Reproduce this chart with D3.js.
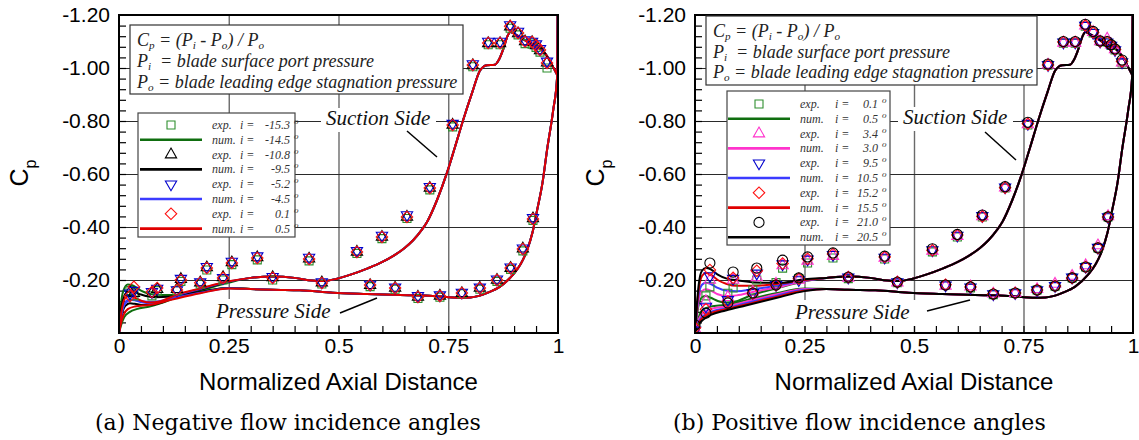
<!DOCTYPE html>
<html>
<head>
<meta charset="utf-8">
<script src="https://cdn.jsdelivr.net/npm/d3@7"></script>
<style>
  html, body { margin: 0; padding: 0; background: #fff; }
  svg { display: block; }
</style>
</head>
<body>
<div id="chart"></div>
<script>
// ---------- axis ticks ----------
const xTickValues = [0, 0.25, 0.5, 0.75, 1];
const xTickLabels = ["0", "0.25", "0.5", "0.75", "1"];
const yTickValues = [-1.2, -1.0, -0.8, -0.6, -0.4, -0.2];

// ---------- pressure port locations (normalized axial distance) ----------
const portUpper = [0.034, 0.087, 0.141, 0.2, 0.257, 0.315, 0.433, 0.542, 0.599, 0.656, 0.708, 0.76, 0.806, 0.841, 0.868, 0.891, 0.909, 0.925, 0.941, 0.95, 0.959, 0.975];
const portLower = [0, 0.025, 0.075, 0.132, 0.185, 0.237, 0.35, 0.462, 0.572, 0.629, 0.681, 0.731, 0.781, 0.822, 0.861, 0.892, 0.92, 0.943];

// ---------- (a) negative incidence: experiments ----------
const negExpLabels = ["-15.3", "-10.8", "-5.2", "0.1"];
const negExpUpper15 = [-0.14, -0.16, -0.195, -0.238, -0.258, -0.276, -0.272, -0.3, -0.356, -0.432, -0.54, -0.778, -1.005, -1.088, -1.088, -1.15, -1.125, -1.092, -1.09, -1.078, -1.06, -1.0];
const negExpUpper10 = [-0.15, -0.165, -0.203, -0.247, -0.266, -0.285, -0.28, -0.306, -0.362, -0.438, -0.547, -0.785, -1.01, -1.093, -1.093, -1.156, -1.13, -1.1, -1.097, -1.085, -1.066, -1.02];
const negExpUpper5 = [-0.16, -0.168, -0.205, -0.25, -0.27, -0.29, -0.285, -0.31, -0.368, -0.445, -0.552, -0.79, -1.015, -1.1, -1.1, -1.162, -1.138, -1.105, -1.1, -1.09, -1.072, -1.025];
const negExpUpper0 = [-0.174, -0.17, -0.2, -0.245, -0.264, -0.283, -0.279, -0.306, -0.362, -0.438, -0.547, -0.785, -1.011, -1.094, -1.094, -1.158, -1.132, -1.1, -1.098, -1.085, -1.068, -1.019];
const negExpLower15 = [null, -0.16, -0.14, -0.16, -0.185, -0.2, -0.2, -0.185, -0.175, -0.165, -0.13, -0.135, -0.148, -0.165, -0.195, -0.24, -0.31, -0.425];
const negExpLower10 = [null, -0.155, -0.15, -0.165, -0.19, -0.21, -0.21, -0.19, -0.18, -0.17, -0.136, -0.14, -0.15, -0.17, -0.2, -0.245, -0.318, -0.432];
const negExpLower5 = [null, -0.15, -0.155, -0.162, -0.192, -0.208, -0.212, -0.192, -0.183, -0.172, -0.14, -0.143, -0.153, -0.172, -0.203, -0.248, -0.32, -0.435];
const negExpLower0 = [null, -0.14, -0.155, -0.162, -0.19, -0.208, -0.208, -0.189, -0.181, -0.17, -0.136, -0.14, -0.151, -0.17, -0.2, -0.245, -0.317, -0.43];

// ---------- (a) negative incidence: simulations ----------
const negNumLabels = ["-14.5", "-9.5", "-4.5", "0.5"];
const negSucLE14 = [[0, 0], [0.005, -0.03], [0.012, -0.06], [0.025, -0.08], [0.04, -0.09], [0.07, -0.1], [0.1, -0.115], [0.14, -0.14], [0.185, -0.16], [0.25, -0.19]];
const negSucLE9 = [[0, 0], [0.004, -0.045], [0.009, -0.085], [0.016, -0.105], [0.025, -0.112], [0.036, -0.11], [0.052, -0.106], [0.071, -0.106], [0.095, -0.114], [0.132, -0.14], [0.185, -0.164], [0.25, -0.193]];
const negSucLE4 = [[0, 0], [0.004, -0.05], [0.009, -0.095], [0.016, -0.12], [0.025, -0.127], [0.036, -0.124], [0.052, -0.116], [0.071, -0.112], [0.095, -0.118], [0.132, -0.142], [0.185, -0.166], [0.25, -0.194]];
const negSucLE0 = [[0, 0], [0.004, -0.06], [0.009, -0.11], [0.016, -0.135], [0.025, -0.14], [0.036, -0.133], [0.052, -0.121], [0.071, -0.115], [0.095, -0.12], [0.132, -0.145], [0.185, -0.168], [0.25, -0.195]];
const negPreLE14 = [[0, 0], [0.004, -0.1], [0.01, -0.16], [0.02, -0.183], [0.03, -0.18], [0.05, -0.16], [0.08, -0.145], [0.12, -0.143], [0.185, -0.157], [0.25, -0.17]];
const negPreLE9 = [[0, 0], [0.004, -0.08], [0.01, -0.13], [0.02, -0.155], [0.03, -0.158], [0.05, -0.145], [0.08, -0.135], [0.12, -0.138], [0.185, -0.155], [0.25, -0.17]];
const negPreLE4 = [[0, 0], [0.004, -0.06], [0.01, -0.1], [0.02, -0.12], [0.03, -0.125], [0.05, -0.12], [0.08, -0.118], [0.12, -0.13], [0.185, -0.152], [0.25, -0.169]];
const negPreLE0 = [[0, 0], [0.005, -0.04], [0.011, -0.07], [0.02, -0.09], [0.036, -0.1], [0.07, -0.106], [0.116, -0.124], [0.185, -0.15], [0.25, -0.168]];

// ---------- (b) positive incidence: experiments ----------
const posExpLabels = ["0.1", "3.4", "9.5", "15.2", "21.0"];
const posExpUpper0 = [-0.174, -0.17, -0.2, -0.245, -0.264, -0.283, -0.279, -0.306, -0.362, -0.438, -0.547, -0.785, -1.011, -1.094, -1.094, -1.158, -1.132, -1.1, -1.098, -1.085, -1.068, -1.019];
const posExpUpper3 = [-0.2, -0.2, -0.21, -0.255, -0.272, -0.29, -0.283, -0.31, -0.365, -0.44, -0.548, -0.787, -1.012, -1.095, -1.095, -1.16, -1.135, -1.1, -1.11, -1.088, -1.07, -1.02];
const posExpUpper9 = [-0.215, -0.205, -0.225, -0.26, -0.278, -0.295, -0.285, -0.313, -0.368, -0.442, -0.55, -0.79, -1.012, -1.097, -1.097, -1.16, -1.133, -1.1, -1.097, -1.085, -1.068, -1.022];
const posExpUpper15 = [-0.238, -0.208, -0.235, -0.262, -0.28, -0.298, -0.287, -0.312, -0.37, -0.44, -0.548, -0.79, -1.011, -1.098, -1.098, -1.16, -1.134, -1.1, -1.098, -1.086, -1.07, -1.025];
const posExpUpper21 = [-0.264, -0.23, -0.245, -0.275, -0.287, -0.302, -0.29, -0.318, -0.372, -0.445, -0.552, -0.795, -1.015, -1.1, -1.1, -1.165, -1.138, -1.102, -1.1, -1.088, -1.072, -1.03];
const posExpLower0 = [-0.02, -0.14, -0.15, -0.162, -0.19, -0.205, -0.205, -0.19, -0.18, -0.17, -0.145, -0.15, -0.162, -0.177, -0.208, -0.249, -0.321, -0.438];
const posExpLower3 = [-0.015, -0.12, -0.135, -0.155, -0.185, -0.2, -0.208, -0.19, -0.178, -0.175, -0.148, -0.15, -0.165, -0.185, -0.215, -0.255, -0.33, -0.44];
const posExpLower9 = [-0.01, -0.1, -0.125, -0.152, -0.182, -0.2, -0.21, -0.192, -0.18, -0.172, -0.147, -0.151, -0.162, -0.178, -0.21, -0.25, -0.322, -0.438];
const posExpLower15 = [-0.02, -0.09, -0.118, -0.15, -0.18, -0.205, -0.21, -0.192, -0.182, -0.174, -0.147, -0.151, -0.162, -0.177, -0.208, -0.249, -0.321, -0.438];
const posExpLower21 = [-0.03, -0.075, -0.113, -0.151, -0.181, -0.208, -0.211, -0.192, -0.181, -0.174, -0.147, -0.151, -0.162, -0.177, -0.208, -0.249, -0.321, -0.438];

// ---------- (b) positive incidence: simulations ----------
const posNumLabels = ["0.5", "3.0", "10.5", "15.5", "20.5"];
const posSucLE0 = [[0, 0], [0.004, -0.06], [0.009, -0.11], [0.016, -0.135], [0.025, -0.14], [0.036, -0.133], [0.052, -0.121], [0.071, -0.115], [0.095, -0.12], [0.132, -0.145], [0.185, -0.168], [0.25, -0.195]];
const posSucLE3 = [[0, 0], [0.004, -0.07], [0.009, -0.13], [0.016, -0.158], [0.025, -0.165], [0.036, -0.16], [0.052, -0.146], [0.071, -0.14], [0.095, -0.142], [0.132, -0.155], [0.185, -0.172], [0.25, -0.196]];
const posSucLE10 = [[0, 0], [0.004, -0.08], [0.009, -0.15], [0.016, -0.182], [0.025, -0.19], [0.036, -0.185], [0.052, -0.17], [0.071, -0.16], [0.095, -0.158], [0.132, -0.165], [0.185, -0.178], [0.25, -0.198]];
const posSucLE15 = [[0, 0], [0.004, -0.09], [0.009, -0.17], [0.016, -0.215], [0.025, -0.226], [0.036, -0.22], [0.052, -0.2], [0.071, -0.186], [0.095, -0.178], [0.132, -0.178], [0.185, -0.185], [0.25, -0.2]];
const posSucLE20 = [[0, 0], [0.004, -0.1], [0.009, -0.19], [0.016, -0.235], [0.025, -0.245], [0.036, -0.24], [0.052, -0.22], [0.071, -0.206], [0.1, -0.198], [0.15, -0.19], [0.2, -0.19], [0.25, -0.203]];
const posPreLE0 = [[0, 0], [0.005, -0.04], [0.011, -0.07], [0.02, -0.09], [0.036, -0.1], [0.07, -0.106], [0.116, -0.124], [0.185, -0.15], [0.25, -0.168]];
const posPreLE3 = [[0, 0], [0.005, -0.035], [0.011, -0.06], [0.02, -0.078], [0.036, -0.09], [0.07, -0.1], [0.116, -0.118], [0.185, -0.145], [0.25, -0.166]];
const posPreLE10 = [[0, 0], [0.005, -0.03], [0.011, -0.05], [0.02, -0.066], [0.036, -0.08], [0.07, -0.093], [0.116, -0.112], [0.185, -0.14], [0.25, -0.163]];
const posPreLE15 = [[0, 0], [0.005, -0.025], [0.011, -0.045], [0.02, -0.06], [0.036, -0.075], [0.07, -0.09], [0.116, -0.108], [0.185, -0.136], [0.25, -0.16]];
const posPreLE20 = [[0, 0], [0.005, -0.02], [0.011, -0.038], [0.02, -0.052], [0.036, -0.068], [0.07, -0.085], [0.116, -0.104], [0.185, -0.132], [0.25, -0.158]];

// common aft part of the computed distributions (all cases collapse here)
const suctionTail = [[0.3, -0.208], [0.35, -0.213], [0.4, -0.208], [0.44, -0.198], [0.465, -0.196], [0.497, -0.205], [0.531, -0.222], [0.565, -0.243], [0.6, -0.268], [0.624, -0.29], [0.65, -0.32], [0.67, -0.35], [0.69, -0.39], [0.702, -0.42], [0.724, -0.5], [0.747, -0.604], [0.765, -0.7], [0.784, -0.804], [0.805, -0.91], [0.822, -0.99], [0.83, -1.005], [0.838, -1.01], [0.856, -1.012], [0.865, -1.03], [0.875, -1.07], [0.885, -1.12], [0.891, -1.136], [0.9, -1.13], [0.913, -1.117], [0.936, -1.094], [0.959, -1.075], [0.977, -1.04], [0.99, -1.0], [0.998, -0.974]];
const pressureTail = [[0.3, -0.166], [0.349, -0.163], [0.412, -0.161], [0.487, -0.152], [0.565, -0.147], [0.64, -0.143], [0.715, -0.14], [0.777, -0.133], [0.8, -0.134], [0.82, -0.14], [0.838, -0.151], [0.868, -0.175], [0.897, -0.219], [0.915, -0.26], [0.929, -0.31], [0.942, -0.38], [0.952, -0.46], [0.965, -0.57], [0.975, -0.69], [0.989, -0.84], [0.998, -0.966], [1.0, -1.4]];

// ---------- styles ----------
const GREEN = "#0f6e0f", GREEN_M = "#2f8f2f", BLACK = "#000", BLUE = "#3b3bff", BLUE_M = "#0000cc", RED = "#e00000", RED_M = "#ff1010", MAG = "#ff33cc";

const yScale = d3.scaleLinear().domain([0, -1.2]).range([333, 15]);
const svg = d3.select("#chart").append("svg").attr("width", 1139).attr("height", 440);
svg.append("rect").attr("width", 1139).attr("height", 440).attr("fill", "#fff");

const markerPath = {
  square: d3.symbol().type(d3.symbolSquare).size(64)(),
  tri: d3.symbol().type(d3.symbolTriangle).size(55)(),
  invtri: d3.symbol().type(d3.symbolTriangle).size(55)(),
  diamond: d3.symbol().type(d3.symbolSquare).size(66)(),
  circle: d3.symbol().type(d3.symbolCircle).size(80)()
};
const markerRot = { square: 0, tri: 0, invtri: 180, diamond: 45, circle: 0 };

function sub(parent, parts, size) {
  // parts: [text, "sub"|undefined]
  let shift = 0;
  parts.forEach(([t, kind]) => {
    const ts = parent.append("tspan").text(t);
    const target = kind === "sub" ? 3 : 0;
    if (target !== shift) { ts.attr("dy", target - shift); shift = target; }
    if (kind === "sub") ts.attr("font-size", size * 0.62);
  });
}

function drawPanel(p) {
  const x = d3.scaleLinear().domain([0, 1]).range([p.x0, p.x1]);
  const w = p.x1 - p.x0, h = 333 - 15;
  const g = svg.append("g");

  svg.append("clipPath").attr("id", "clip-" + p.id).append("rect")
    .attr("x", p.x0).attr("y", 15).attr("width", w).attr("height", h);

  // grid
  g.append("g").attr("transform", "translate(0,333)")
    .call(d3.axisBottom(x).tickValues([0.25, 0.5, 0.75]).tickSizeInner(-h).tickFormat(""))
    .call(s => s.select(".domain").remove())
    .selectAll("line").attr("stroke", "#6a6a6a").attr("stroke-width", 1.4);
  g.append("g").attr("transform", `translate(${p.x0},0)`)
    .call(d3.axisLeft(yScale).tickValues([-1.0, -0.8, -0.6, -0.4, -0.2]).tickSizeInner(-w).tickFormat(""))
    .call(s => s.select(".domain").remove())
    .selectAll("line").attr("stroke", "#2a2a2a").attr("stroke-width", 1.1);

  // minor ticks
  g.append("g").attr("transform", "translate(0,333)")
    .call(d3.axisBottom(x).tickValues(d3.range(0.05, 1, 0.05)).tickSizeInner(-7).tickFormat(""))
    .call(s => s.select(".domain").remove())
    .selectAll("line").attr("stroke", "#000").attr("stroke-width", 1.2);
  g.append("g").attr("transform", `translate(${p.x0},0)`)
    .call(d3.axisLeft(yScale).tickValues(d3.range(-0.04, -1.2, -0.04)).tickSizeInner(-7).tickFormat(""))
    .call(s => s.select(".domain").remove())
    .selectAll("line").attr("stroke", "#000").attr("stroke-width", 1.2);

  // computed curves
  const line = d3.line().x(d => x(d[0])).y(d => yScale(d[1])).curve(d3.curveMonotoneX);
  const curves = g.append("g").attr("clip-path", `url(#clip-${p.id})`);
  p.num.forEach(c => {
    [c.suc.concat(suctionTail), c.pre.concat(pressureTail)].forEach(pts => {
      curves.append("path").attr("d", line(pts)).attr("fill", "none")
        .attr("stroke", c.color).attr("stroke-width", 2);
    });
  });

  // experimental markers
  const marks = g.append("g").attr("clip-path", `url(#clip-${p.id})`);
  p.exp.forEach(e => {
    const pts = portUpper.map((px, i) => [px, e.upper[i]])
      .concat(portLower.map((px, i) => [px, e.lower[i]]))
      .filter(d => d[1] !== null);
    marks.selectAll(null).data(pts).enter().append("path")
      .attr("d", markerPath[e.shape])
      .attr("transform", d => `translate(${x(d[0])},${yScale(d[1])}) rotate(${markerRot[e.shape]})`)
      .attr("fill", "none").attr("stroke", e.color).attr("stroke-width", 1.1);
  });

  // frame
  g.append("rect").attr("x", p.x0).attr("y", 15).attr("width", w).attr("height", h)
    .attr("fill", "none").attr("stroke", "#000").attr("stroke-width", 2);

  // tick labels
  const ax = g.append("g").attr("transform", "translate(0,333)")
    .call(d3.axisBottom(x).tickValues(xTickValues).tickSize(0).tickPadding(5)
      .tickFormat((d, i) => xTickLabels[i]));
  ax.select(".domain").remove();
  ax.selectAll("text").attr("font-family", "'Liberation Sans', Arial, sans-serif").attr("font-size", 21).attr("fill", "#000");
  const ay = g.append("g").attr("transform", `translate(${p.x0},0)`)
    .call(d3.axisLeft(yScale).tickValues(yTickValues).tickSize(0).tickPadding(9).tickFormat(d => d.toFixed(2)));
  ay.select(".domain").remove();
  ay.selectAll("text").attr("font-family", "'Liberation Sans', Arial, sans-serif").attr("font-size", 21).attr("fill", "#000");

  // axis titles
  g.append("text").attr("x", (p.x0 + p.x1) / 2).attr("y", 390).attr("text-anchor", "middle")
    .attr("font-family", "'Liberation Sans', Arial, sans-serif").attr("font-size", 24)
    .text("Normalized Axial Distance");
  const cp = g.append("text").attr("transform", `translate(${p.x0 - 91},173) rotate(-90)`)
    .attr("text-anchor", "middle").attr("font-family", "'Liberation Sans', Arial, sans-serif").attr("font-size", 25);
  cp.append("tspan").text("C");
  cp.append("tspan").attr("dy", 8).attr("font-size", 16).text("p");

  // caption
  g.append("text").attr("x", p.capX).attr("y", 430)
    .attr("font-family", "'DejaVu Serif', serif").attr("font-size", 22).text(p.caption);

  // definition box
  const fb = p.formula;
  g.append("rect").attr("x", fb.x).attr("y", fb.y).attr("width", fb.w).attr("height", fb.h)
    .attr("fill", "#fff").attr("stroke", "#333").attr("stroke-width", 1.2);
  const ftxt = [
    [["C"], ["p", "sub"], [" = (P"], ["i", "sub"], [" - P"], ["o", "sub"], [") / P"], ["o", "sub"]],
    [["P"], ["i", "sub"], ["  = blade surface port pressure"]],
    [["P"], ["o", "sub"], [" = blade leading edge stagnation pressure"]]
  ];
  ftxt.forEach((parts, i) => {
    const t = g.append("text").attr("x", fb.tx).attr("y", fb.base + i * fb.dy)
      .attr("font-family", "'Liberation Serif', 'Times New Roman', serif").attr("font-style", "italic")
      .attr("font-size", 18).attr("fill", "#222").attr("xml:space", "preserve").style("white-space", "pre");
    sub(t, parts, 18);
  });

  // legend
  const lg = p.legend;
  g.append("rect").attr("x", lg.x).attr("y", lg.y).attr("width", lg.w).attr("height", lg.h)
    .attr("fill", "#fff").attr("stroke", "#444").attr("stroke-width", 1.2);
  const rows = [];
  p.exp.forEach((e, i) => {
    rows.push({ kind: "exp", e: e, label: p.expLabels[i] });
    rows.push({ kind: "num", c: p.num[i], label: p.numLabels[i] });
  });
  rows.forEach((r, i) => {
    const yy = lg.row0 + i * lg.step;
    if (r.kind === "exp") {
      g.append("path").attr("d", markerPath[r.e.shape])
        .attr("transform", `translate(${lg.mx},${yy}) rotate(${markerRot[r.e.shape]})`)
        .attr("fill", "none").attr("stroke", r.e.color).attr("stroke-width", 1.1);
    } else {
      g.append("line").attr("x1", lg.lx0).attr("x2", lg.lx1).attr("y1", yy).attr("y2", yy)
        .attr("stroke", r.c.color).attr("stroke-width", 2.6);
    }
    const tg = g.append("g").attr("font-family", "'Liberation Serif', 'Times New Roman', serif")
      .attr("font-style", "italic").attr("font-size", 12).attr("fill", "#333");
    tg.append("text").attr("x", lg.tx).attr("y", yy + 4).text(r.kind === "exp" ? "exp." : "num.");
    tg.append("text").attr("x", lg.ix).attr("y", yy + 4).text("i =");
    tg.append("text").attr("x", lg.vx).attr("y", yy + 4).attr("text-anchor", "end").text(r.label);
    tg.append("text").attr("x", lg.vx + 4).attr("y", yy - 1).attr("font-size", 9).text("o");
  });

  // side labels with leaders
  p.labels.forEach(l => {
    g.append("rect").attr("x", l.bx).attr("y", l.by).attr("width", l.bw).attr("height", l.bh).attr("fill", "#fff");
    g.append("text").attr("x", l.x).attr("y", l.y)
      .attr("font-family", "'Liberation Serif', 'Times New Roman', serif").attr("font-style", "italic")
      .attr("font-size", 21).attr("fill", "#111").text(l.text);
    g.append("line").attr("x1", l.lx1).attr("y1", l.ly1).attr("x2", l.lx2).attr("y2", l.ly2)
      .attr("stroke", "#000").attr("stroke-width", 1.5);
  });
}

drawPanel({
  id: "a", x0: 119, x1: 558, capX: 95, caption: "(a) Negative flow incidence angles",
  exp: [
    { shape: "square", color: GREEN_M, upper: negExpUpper15, lower: negExpLower15 },
    { shape: "tri", color: BLACK, upper: negExpUpper10, lower: negExpLower10 },
    { shape: "invtri", color: BLUE_M, upper: negExpUpper5, lower: negExpLower5 },
    { shape: "diamond", color: RED_M, upper: negExpUpper0, lower: negExpLower0 }
  ],
  num: [
    { color: GREEN, suc: negSucLE14, pre: negPreLE14 },
    { color: BLACK, suc: negSucLE9, pre: negPreLE9 },
    { color: BLUE, suc: negSucLE4, pre: negPreLE4 },
    { color: RED, suc: negSucLE0, pre: negPreLE0 }
  ],
  expLabels: negExpLabels, numLabels: negNumLabels,
  formula: { x: 130, y: 25, w: 333, h: 69, tx: 137, base: 46, dy: 21 },
  legend: { x: 138, y: 113, w: 157, h: 124, row0: 125, step: 14.8, mx: 171, lx0: 140, lx1: 202, tx: 212, ix: 240, vx: 290 },
  labels: [
    { text: "Suction Side", x: 326, y: 125, bx: 321, by: 108, bw: 115, bh: 24, lx1: 407, ly1: 131, lx2: 437, ly2: 157 },
    { text: "Pressure Side", x: 216, y: 318, bx: 212, by: 299, bw: 128, bh: 26, lx1: 340, ly1: 313, lx2: 377, ly2: 298 }
  ]
});

drawPanel({
  id: "b", x0: 695, x1: 1133, capX: 673, caption: "(b) Positive flow incidence angles",
  exp: [
    { shape: "square", color: GREEN_M, upper: posExpUpper0, lower: posExpLower0 },
    { shape: "tri", color: MAG, upper: posExpUpper3, lower: posExpLower3 },
    { shape: "invtri", color: BLUE_M, upper: posExpUpper9, lower: posExpLower9 },
    { shape: "diamond", color: RED_M, upper: posExpUpper15, lower: posExpLower15 },
    { shape: "circle", color: BLACK, upper: posExpUpper21, lower: posExpLower21 }
  ],
  num: [
    { color: GREEN, suc: posSucLE0, pre: posPreLE0 },
    { color: MAG, suc: posSucLE3, pre: posPreLE3 },
    { color: BLUE, suc: posSucLE10, pre: posPreLE10 },
    { color: RED, suc: posSucLE15, pre: posPreLE15 },
    { color: BLACK, suc: posSucLE20, pre: posPreLE20 }
  ],
  expLabels: posExpLabels, numLabels: posNumLabels,
  formula: { x: 706, y: 16, w: 331, h: 69, tx: 713, base: 37, dy: 20.5 },
  legend: { x: 727, y: 91, w: 163, h: 154, row0: 104, step: 14.8, mx: 759, lx0: 728, lx1: 790, tx: 800, ix: 835, vx: 878 },
  labels: [
    { text: "Suction Side", x: 903, y: 124, bx: 898, by: 107, bw: 115, bh: 24, lx1: 985, ly1: 132, lx2: 1016, ly2: 160 },
    { text: "Pressure Side", x: 795, y: 319, bx: 791, by: 300, bw: 128, bh: 26, lx1: 927, ly1: 311, lx2: 970, ly2: 300 }
  ]
});
</script>
</body>
</html>
